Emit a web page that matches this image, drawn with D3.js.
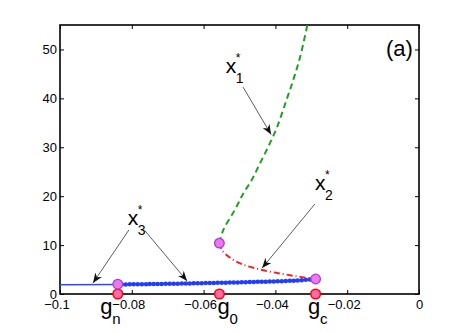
<!DOCTYPE html>
<html>
<head>
<meta charset="utf-8">
<script src="https://cdn.jsdelivr.net/npm/d3@7"></script>
<style>
  body { margin: 0; background: #fff; }
  text { font-family: "Liberation Sans", Arial, sans-serif; fill: #000; }
</style>
</head>
<body>
<svg id="chart" width="463" height="332"></svg>
<script>
// tick values
const xTicks = [-0.1, -0.08, -0.06, -0.04, -0.02, 0]
const yTicks = [0, 10, 20, 30, 40, 50]

// x3* branch, plain line before g_n
const x3SolidG = [-0.1, -0.0839]
const x3SolidV = [1.9, 1.95]
// x3* branch with dots, g_n -> g_c
const x3DotG = [-0.0839, -0.075, -0.065, -0.055, -0.045, -0.035, -0.0288]
const x3DotV = [1.95, 2.02, 2.15, 2.3, 2.48, 2.72, 3.05]
// x1* branch (green dashed)
const x1G = [-0.0556, -0.0545, -0.0513, -0.0489, -0.0466, -0.0443, -0.042, -0.0396, -0.0369, -0.035, -0.0331, -0.0311]
const x1V = [10.4, 13.1, 17.2, 20.6, 23.3, 26.7, 30.1, 34.0, 39.7, 43.8, 48.5, 55]
// x2* branch (red dash-dot)
const x2G = [-0.0556, -0.0549, -0.0526, -0.0493, -0.0437, -0.0379, -0.0331, -0.0288]
const x2V = [10.4, 9.0, 7.4, 6.1, 4.9, 4.1, 3.5, 3.07]

// special points g_n, g_0, g_c
const critNames = ['n', '0', 'c']
const critG = [-0.0839, -0.0556, -0.0288]
const critV = [2.0, 10.4, 3.07]
const critLabelG = [-0.0888, -0.0561, -0.0309]

// annotations: label anchor + arrows (data coords)
const annNames = ['1', '2', '3']
const annG = [-0.0538, -0.029, -0.0811]
const annV = [45.1, 21.3, 14.1]
const arrows = [
  [[-0.049, 42.3], [-0.0412, 32.6]],
  [[-0.029, 18.4], [-0.0437, 5.3]],
  [[-0.0808, 13.1], [-0.0908, 2.25]],
  [[-0.0763, 12.9], [-0.0646, 2.66]]
]

const margin = {top: 25, right: 44, bottom: 38, left: 60}
const width = 463 - margin.left - margin.right
const height = 332 - margin.top - margin.bottom

const svg = d3.select('#chart')
const g = svg.append('g').attr('transform', `translate(${margin.left},${margin.top})`)

const x = d3.scaleLinear().domain([-0.1, 0]).range([0, width])
const y = d3.scaleLinear().domain([0, 55]).range([height, 0])

const fmt = d3.format('~g')

// axes, ticks pointing inward
g.append('g')
  .attr('class', 'xaxis')
  .attr('transform', `translate(0,${height})`)
  .call(d3.axisBottom(x).tickValues(xTicks).tickFormat(fmt).tickSizeInner(-4).tickSizeOuter(0).tickPadding(6))
g.append('g')
  .call(d3.axisTop(x).tickValues(xTicks).tickFormat('').tickSizeInner(-4).tickSizeOuter(0))
g.append('g')
  .call(d3.axisLeft(y).tickValues(yTicks).tickSizeInner(-4).tickSizeOuter(0).tickPadding(3))
g.append('g')
  .attr('transform', `translate(${width},0)`)
  .call(d3.axisRight(y).tickValues(yTicks).tickFormat('').tickSizeInner(-4).tickSizeOuter(0))

g.selectAll('.domain').remove()
g.selectAll('.tick line').attr('stroke', '#000').attr('stroke-width', 1)
g.selectAll('.tick text').style('font-size', '13px').attr('fill', '#000')
g.selectAll('.xaxis .tick text').attr('dx', (d) => (d < 0 ? -3.5 : 0))

g.append('rect')
  .attr('width', width)
  .attr('height', height)
  .attr('fill', 'none')
  .attr('stroke', '#000')
  .attr('stroke-width', 1.6)

const line = d3.line()
  .x((d) => x(d[0]))
  .y((d) => y(d[1]))
  .curve(d3.curveCatmullRom)

const zip = (a, b) => a.map((v, i) => [v, b[i]])

g.append('path')
  .attr('d', line(zip(x3SolidG, x3SolidV)))
  .attr('fill', 'none')
  .attr('stroke', '#2a48ff')
  .attr('stroke-width', 1.5)

g.append('path')
  .attr('d', line(zip(x3DotG, x3DotV)))
  .attr('fill', 'none')
  .attr('stroke', '#2a48ff')
  .attr('stroke-width', 2)
g.append('path')
  .attr('d', line(zip(x3DotG, x3DotV)))
  .attr('fill', 'none')
  .attr('stroke', '#1f3cff')
  .attr('stroke-width', 4.5)
  .attr('stroke-linecap', 'round')
  .attr('stroke-dasharray', '0 4')

g.append('path')
  .attr('d', line(zip(x1G, x1V)))
  .attr('fill', 'none')
  .attr('stroke', '#20a020')
  .attr('stroke-width', 2)
  .attr('stroke-dasharray', '6 4')

g.append('path')
  .attr('d', line(zip(x2G, x2V)))
  .attr('fill', 'none')
  .attr('stroke', '#ff1a1a')
  .attr('stroke-width', 2)
  .attr('stroke-dasharray', '6 3 1 3')

// arrows
svg.append('defs').append('marker')
  .attr('id', 'head')
  .attr('viewBox', '0 0 10 8')
  .attr('refX', 10)
  .attr('refY', 4)
  .attr('markerWidth', 10)
  .attr('markerHeight', 8)
  .attr('markerUnits', 'userSpaceOnUse')
  .attr('orient', 'auto')
  .append('path')
  .attr('d', 'M0,0 L10,4 L0,8 L3,4 Z')
  .attr('fill', '#111')

g.selectAll('.arrow')
  .data(arrows)
  .enter().append('line')
  .attr('class', 'arrow')
  .attr('x1', (d) => x(d[0][0]))
  .attr('y1', (d) => y(d[0][1]))
  .attr('x2', (d) => x(d[1][0]))
  .attr('y2', (d) => y(d[1][1]))
  .attr('stroke', '#333')
  .attr('stroke-width', 0.8)
  .attr('marker-end', 'url(#head)')

// x_i^* labels
annNames.forEach((n, i) => {
  const px = x(annG[i])
  const py = y(annV[i])
  g.append('text').attr('x', px).attr('y', py).style('font-size', '21px').text('x')
  g.append('text').attr('x', px + 10).attr('y', py + 10).style('font-size', '14px').text(n)
  g.append('text').attr('x', px + 10).attr('y', py - 11).style('font-size', '12px').text('*')
})

// g labels below axis
critNames.forEach((n, i) => {
  const px = x(critLabelG[i])
  g.append('text').attr('x', px).attr('y', height + 20).style('font-size', '22px').text('g')
  g.append('text').attr('x', px + 12).attr('y', height + 30).style('font-size', '15px').text(n)
})

// red points on axis
g.selectAll('.crit0')
  .data(critG)
  .enter().append('circle')
  .attr('cx', (d) => x(d))
  .attr('cy', y(0))
  .attr('r', 4.8)
  .attr('fill', '#ff6aa8')
  .attr('stroke', '#ff0000')
  .attr('stroke-width', 1.5)

// purple points on branches
g.selectAll('.crit')
  .data(zip(critG, critV))
  .enter().append('circle')
  .attr('cx', (d) => x(d[0]))
  .attr('cy', (d) => y(d[1]))
  .attr('r', 4.8)
  .attr('fill', '#ee77f0')
  .attr('stroke', '#a040d0')
  .attr('stroke-width', 1.3)

g.append('text')
  .attr('x', width - 33)
  .attr('y', 31)
  .style('font-size', '22px')
  .text('(a)')
</script>
</body>
</html>
